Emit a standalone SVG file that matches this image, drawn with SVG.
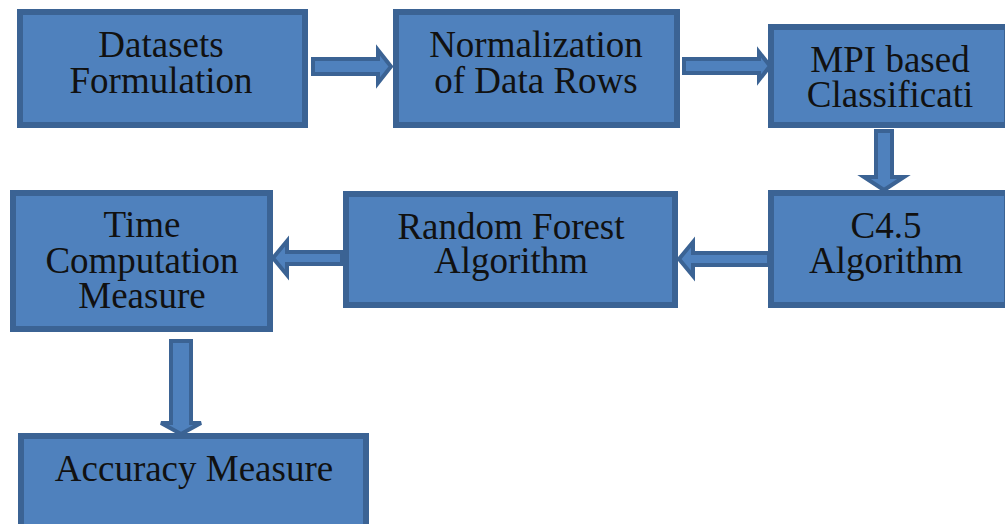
<svg xmlns="http://www.w3.org/2000/svg" width="1005" height="524" viewBox="0 0 1005 524">
<style>
.box{fill:#4f81bd;stroke:#3b6394;stroke-width:6}
.arr{fill:#4f81bd;stroke:#3b6394;stroke-width:4;stroke-linejoin:miter}
text{font-family:"Liberation Serif","Times New Roman",serif;font-size:37px;fill:#111;text-anchor:middle}
</style>
<rect width="1005" height="524" fill="#fff"/>
<g id="connectors">
<polygon class="arr" points="313,59 378,59 378,50 391,66.5 378,83 378,74 313,74"/>
<polygon class="arr" points="684,59 759,59 759,52 770,66 759,80 759,73 684,73"/>
<polygon class="arr" points="876,131 892,131 892,177 904,177 884,190 864,177 876,177"/>
<polygon class="arr" points="769,253 693,253 693,242 679,259 693,276 693,265 769,265"/>
<polygon class="arr" points="342,252 287,252 287,241 273,258 287,275 287,264 342,264"/>
<polygon class="arr" points="171,341 191,341 191,423 201,423 181,434 161,423 171,423"/>
</g>
<g id="n1"><rect class="box" x="20" y="12" width="285" height="113"/><text x="161" y="57">Datasets</text><text x="161" y="93">Formulation</text></g>
<g id="n2"><rect class="box" x="396" y="12" width="281" height="113"/><text x="536" y="57">Normalization</text><text x="536" y="93">of Data Rows</text></g>
<g id="n3"><rect class="box" x="771" y="27" width="236" height="98"/><text x="890" y="72">MPI based</text><text x="890" y="107">Classificati</text></g>
<g id="n4"><rect class="box" x="771" y="193" width="236" height="112"/><text x="886" y="238">C4.5</text><text x="886" y="273">Algorithm</text></g>
<g id="n5"><rect class="box" x="346" y="194" width="329" height="111"/><text x="511" y="239">Random Forest</text><text x="511" y="273">Algorithm</text></g>
<g id="n6"><rect class="box" x="13" y="193" width="257" height="136"/><text x="142" y="237">Time</text><text x="142" y="273">Computation</text><text x="142" y="308">Measure</text></g>
<g id="n7"><rect class="box" x="21" y="436" width="345" height="95"/><text x="194" y="481">Accuracy Measure</text></g>
</svg>
